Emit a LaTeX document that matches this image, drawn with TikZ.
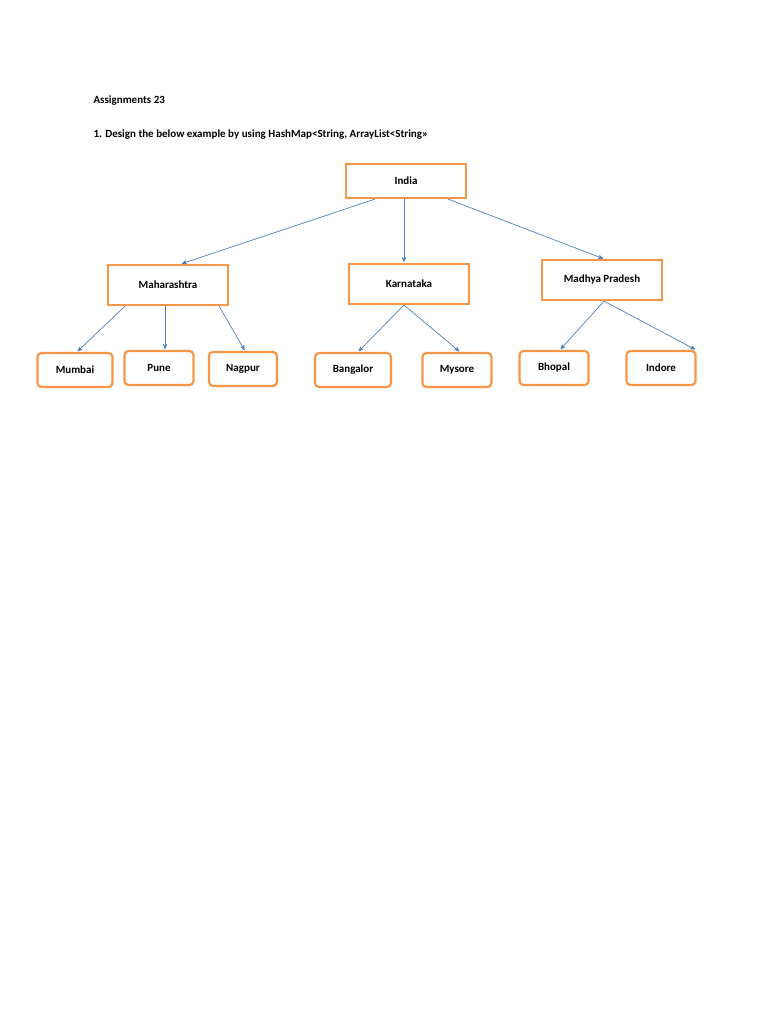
\documentclass[tikz,border=0pt]{standalone}
\usepackage{fontspec}
\setmainfont{Carlito}
\usetikzlibrary{arrows}
\definecolor{boxorange}{HTML}{F79646}
\definecolor{linkblue}{HTML}{4F81BD}
\begin{document}
\begin{tikzpicture}[x=1pt,y=-1pt,font=\bfseries\fontsize{11}{13}\selectfont]
  \useasboundingbox[fill=white] (0,0) rectangle (768,1024);
  \tikzset{state/.style={rectangle,draw=boxorange,line width=2.2pt,minimum height=40pt,minimum width=120pt,inner sep=0pt},
           city/.style={rectangle,rounded corners=4pt,draw=boxorange,line width=2.2pt,minimum height=34pt,inner sep=0pt},
           link/.style={->,>=stealth',draw=linkblue,line width=0.7pt,shorten >=1pt}}

  \node[anchor=west] (T1) at (90,101) {Assignments 23};
  \node[anchor=west] (T2) at (90,135) {1. Design the below example by using HashMap<String, ArrayList<String>>};

  \node[state,minimum height=34pt] (IND) at (406,181) {India};
  \node[state] (MAH) at (168,285) {Maharashtra};
  \node[state] (KAR) at (409,284) {Karnataka};
  \node[state] (MP)  at (602,280) {Madhya Pradesh};

  \node[city,minimum width=75pt] (MUM) at (75,370)  {Mumbai};
  \node[city,minimum width=69pt] (PUN) at (159,368) {Pune};
  \node[city,minimum width=68pt] (NAG) at (243,369) {Nagpur};
  \node[city,minimum width=76pt] (BAN) at (353,370) {Bangalor};
  \node[city,minimum width=69pt] (MYS) at (457,370) {Mysore};
  \node[city,minimum width=69pt] (BHO) at (554,368) {Bhopal};
  \node[city,minimum width=69pt] (IDR) at (661,368) {Indore};

  \draw[link] ([xshift=-31pt]IND.south) -- ([xshift=13pt]MAH.north);
  \draw[link] ([xshift=-2pt]IND.south) -- ([xshift=-5pt]KAR.north);
  \draw[link] ([xshift=42pt]IND.south) -- ([xshift=2pt]MP.north);

  \draw[link] ([xshift=-43pt]MAH.south) -- ([xshift=2pt]MUM.north);
  \draw[link] ([xshift=-3pt]MAH.south) -- ([xshift=6pt]PUN.north);
  \draw[link] ([xshift=51pt]MAH.south) -- ([xshift=2pt]NAG.north);

  \draw[link] ([xshift=-5pt]KAR.south) -- ([xshift=5pt]BAN.north);
  \draw[link] ([xshift=-5pt]KAR.south) -- ([xshift=3pt]MYS.north);

  \draw[link] ([xshift=2pt]MP.south) -- ([xshift=6pt]BHO.north);
  \draw[link] ([xshift=2pt]MP.south) -- ([xshift=35pt]IDR.north);
\end{tikzpicture}
\end{document}
